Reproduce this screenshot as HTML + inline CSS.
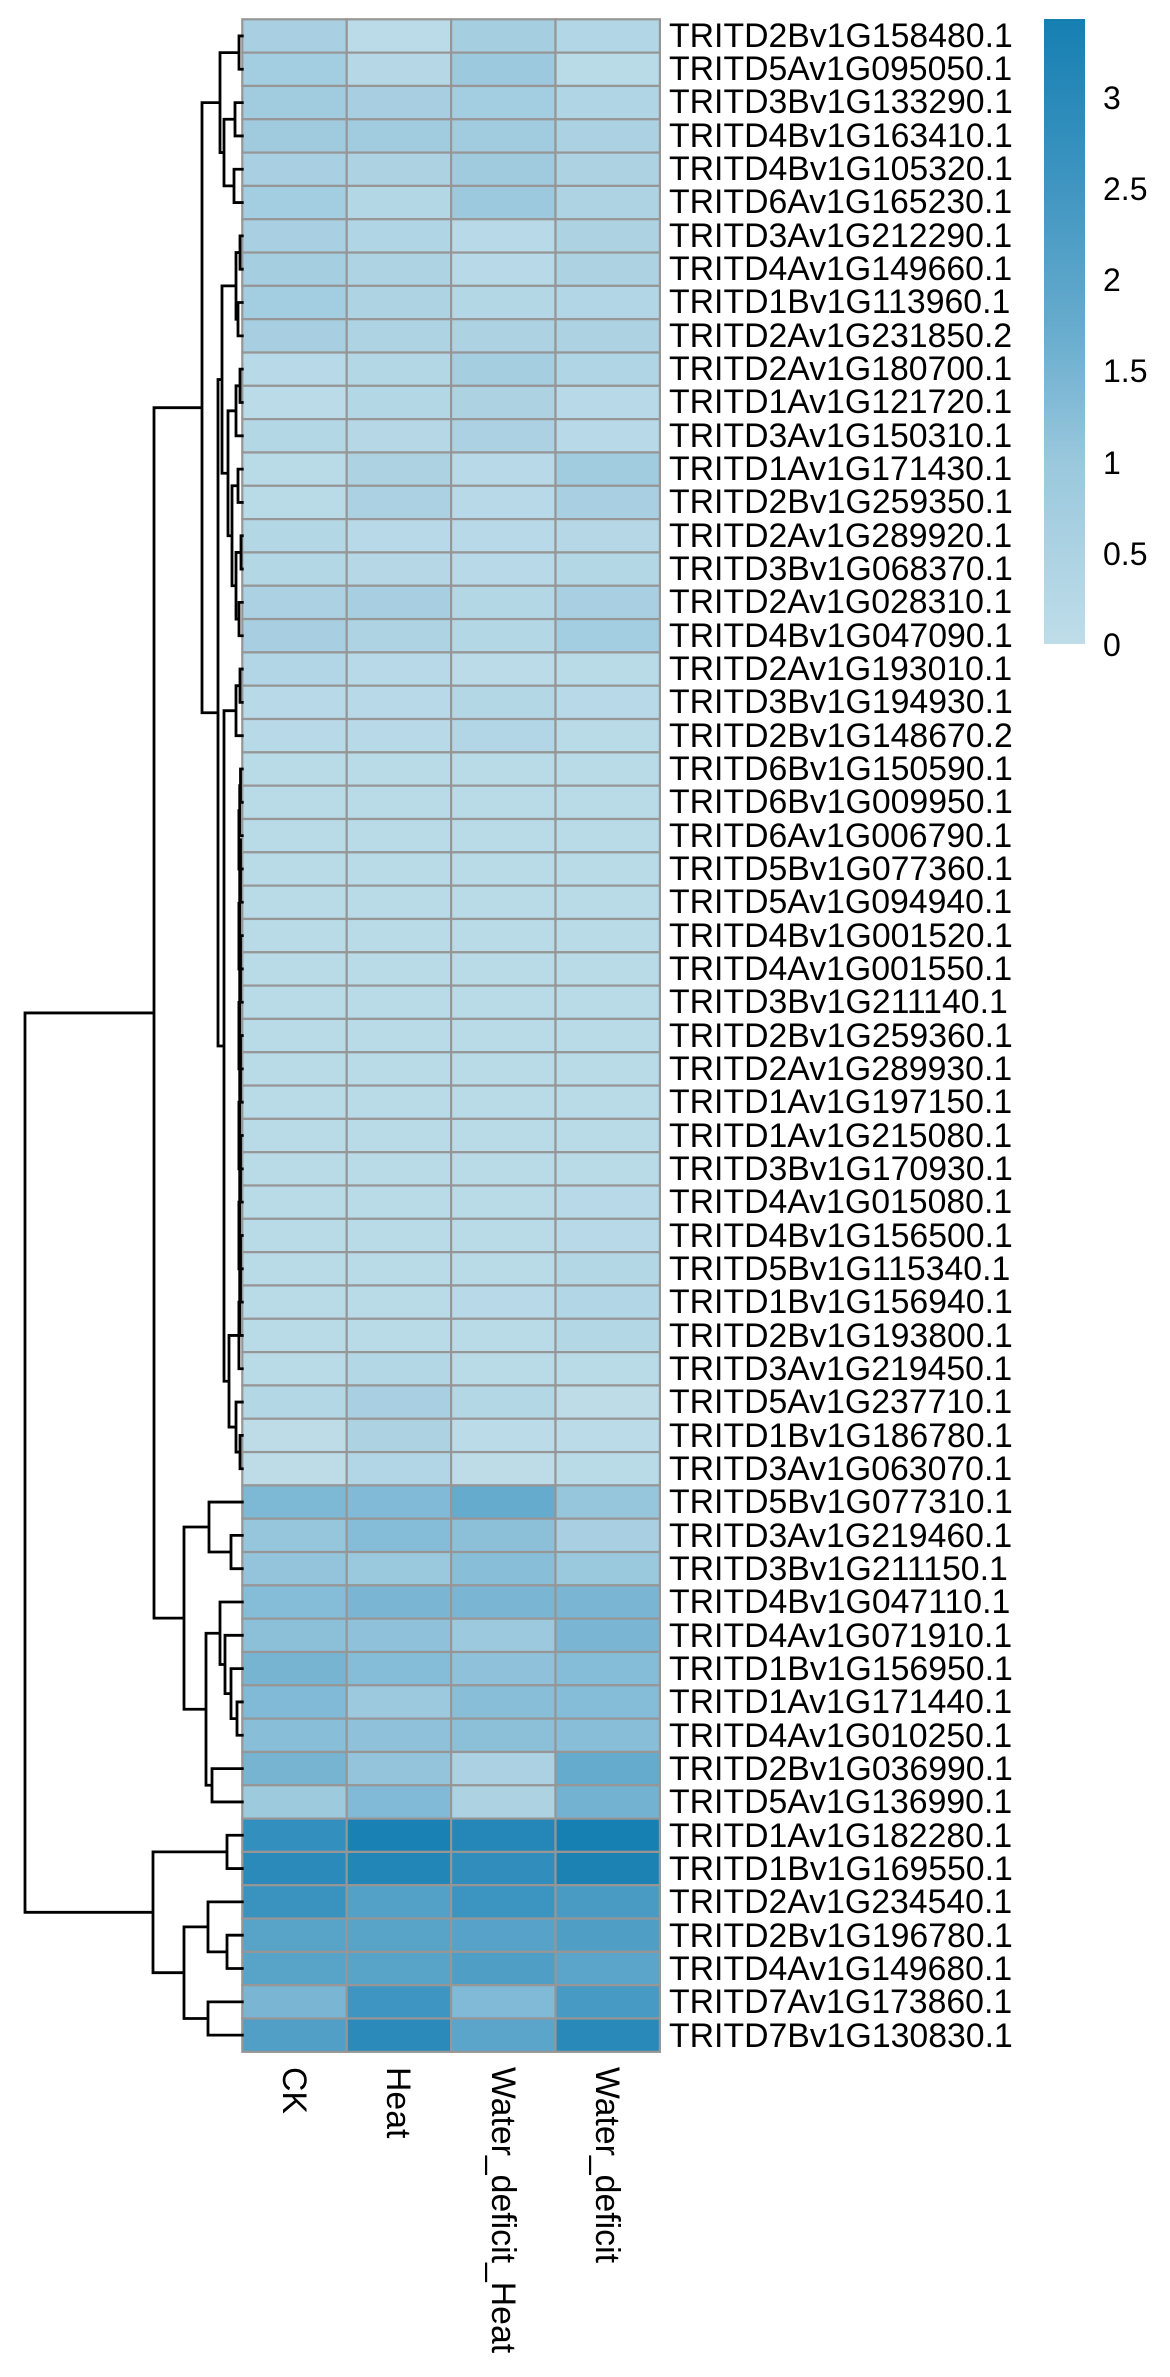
<!DOCTYPE html>
<html><head><meta charset="utf-8">
<style>
html,body{margin:0;padding:0;background:#fff;}
svg{display:block;}
text{font-family:"Liberation Sans",sans-serif;fill:#000;}
</style></head>
<body>
<svg id="s" width="1170" height="2377" viewBox="0 0 1170 2377" xmlns="http://www.w3.org/2000/svg">
<defs>
<linearGradient id="cb" x1="0" y1="1" x2="0" y2="0">
<stop offset="0" stop-color="rgb(191,221,233)"/>
<stop offset="0.29" stop-color="rgb(154,200,221)"/>
<stop offset="0.5" stop-color="rgb(104,172,206)"/>
<stop offset="0.75" stop-color="rgb(60,148,192)"/>
<stop offset="1" stop-color="rgb(22,127,178)"/>
</linearGradient>
</defs>
<g id="cells"></g>
<g id="dend" stroke="#000" stroke-width="2.8" fill="none" stroke-linecap="square"></g>
<rect x="1044" y="19" width="41" height="625" fill="url(#cb)"/>
<g font-size="32">
<text x="1103" y="109">3</text>
<text x="1103" y="200">2.5</text>
<text x="1103" y="291">2</text>
<text x="1103" y="382">1.5</text>
<text x="1103" y="474">1</text>
<text x="1103" y="565">0.5</text>
<text x="1103" y="656">0</text>
</g>
<g id="labels" font-size="33.8" dominant-baseline="central">
<text x="669" y="36">TRITD2Bv1G158480.1</text>
<text x="669" y="69">TRITD5Av1G095050.1</text>
<text x="669" y="102">TRITD3Bv1G133290.1</text>
<text x="669" y="136">TRITD4Bv1G163410.1</text>
<text x="669" y="169">TRITD4Bv1G105320.1</text>
<text x="669" y="202">TRITD6Av1G165230.1</text>
<text x="669" y="236">TRITD3Av1G212290.1</text>
<text x="669" y="269">TRITD4Av1G149660.1</text>
<text x="669" y="302">TRITD1Bv1G113960.1</text>
<text x="669" y="336">TRITD2Av1G231850.2</text>
<text x="669" y="369">TRITD2Av1G180700.1</text>
<text x="669" y="402">TRITD1Av1G121720.1</text>
<text x="669" y="436">TRITD3Av1G150310.1</text>
<text x="669" y="469">TRITD1Av1G171430.1</text>
<text x="669" y="502">TRITD2Bv1G259350.1</text>
<text x="669" y="536">TRITD2Av1G289920.1</text>
<text x="669" y="569">TRITD3Bv1G068370.1</text>
<text x="669" y="602">TRITD2Av1G028310.1</text>
<text x="669" y="636">TRITD4Bv1G047090.1</text>
<text x="669" y="669">TRITD2Av1G193010.1</text>
<text x="669" y="702">TRITD3Bv1G194930.1</text>
<text x="669" y="736">TRITD2Bv1G148670.2</text>
<text x="669" y="769">TRITD6Bv1G150590.1</text>
<text x="669" y="802">TRITD6Bv1G009950.1</text>
<text x="669" y="836">TRITD6Av1G006790.1</text>
<text x="669" y="869">TRITD5Bv1G077360.1</text>
<text x="669" y="902">TRITD5Av1G094940.1</text>
<text x="669" y="936">TRITD4Bv1G001520.1</text>
<text x="669" y="969">TRITD4Av1G001550.1</text>
<text x="669" y="1002">TRITD3Bv1G211140.1</text>
<text x="669" y="1036">TRITD2Bv1G259360.1</text>
<text x="669" y="1069">TRITD2Av1G289930.1</text>
<text x="669" y="1102">TRITD1Av1G197150.1</text>
<text x="669" y="1136">TRITD1Av1G215080.1</text>
<text x="669" y="1169">TRITD3Bv1G170930.1</text>
<text x="669" y="1202">TRITD4Av1G015080.1</text>
<text x="669" y="1236">TRITD4Bv1G156500.1</text>
<text x="669" y="1269">TRITD5Bv1G115340.1</text>
<text x="669" y="1302">TRITD1Bv1G156940.1</text>
<text x="669" y="1336">TRITD2Bv1G193800.1</text>
<text x="669" y="1369">TRITD3Av1G219450.1</text>
<text x="669" y="1402">TRITD5Av1G237710.1</text>
<text x="669" y="1436">TRITD1Bv1G186780.1</text>
<text x="669" y="1469">TRITD3Av1G063070.1</text>
<text x="669" y="1502">TRITD5Bv1G077310.1</text>
<text x="669" y="1536">TRITD3Av1G219460.1</text>
<text x="669" y="1569">TRITD3Bv1G211150.1</text>
<text x="669" y="1602">TRITD4Bv1G047110.1</text>
<text x="669" y="1636">TRITD4Av1G071910.1</text>
<text x="669" y="1669">TRITD1Bv1G156950.1</text>
<text x="669" y="1702">TRITD1Av1G171440.1</text>
<text x="669" y="1736">TRITD4Av1G010250.1</text>
<text x="669" y="1769">TRITD2Bv1G036990.1</text>
<text x="669" y="1802">TRITD5Av1G136990.1</text>
<text x="669" y="1836">TRITD1Av1G182280.1</text>
<text x="669" y="1869">TRITD1Bv1G169550.1</text>
<text x="669" y="1902">TRITD2Av1G234540.1</text>
<text x="669" y="1936">TRITD2Bv1G196780.1</text>
<text x="669" y="1969">TRITD4Av1G149680.1</text>
<text x="669" y="2002">TRITD7Av1G173860.1</text>
<text x="669" y="2036">TRITD7Bv1G130830.1</text>
</g>
<g font-size="33.8" dominant-baseline="central">
<text transform="translate(294,2067) rotate(90)">CK</text>
<text transform="translate(398,2067) rotate(90)">Heat</text>
<text transform="translate(503,2067) rotate(90)">Water_deficit_Heat</text>
<text transform="translate(607,2067) rotate(90)">Water_deficit</text>
</g>
</svg>
<script>
(function(){
var NS="http://www.w3.org/2000/svg";
var top=19.3,rh=33.32,left=242.3,cw=104.4;
var V=[
[.6,.1,.7,.35],[.75,.25,.95,.15],[.8,.65,.75,.4],[.85,.8,.8,.55],[.6,.5,.85,.5],[.75,.3,.95,.45],
[.6,.4,.2,.5],[.7,.45,.2,.5],[.75,.45,.3,.35],[.65,.45,.5,.5],[.2,.3,.7,.4],[.1,.3,.5,.2],
[.3,.25,.55,.2],[.15,.5,.2,.8],[.15,.55,.2,.6],[.3,.2,.2,.25],[.3,.25,.2,.3],[.55,.65,.3,.6],
[.65,.45,.3,.75],[.35,.2,.1,.15],[.2,.2,.3,.2],[.2,.2,.35,.15],
[.15,.15,.15,.15],[.15,.15,.15,.15],[.15,.15,.15,.15],[.15,.15,.15,.15],[.15,.15,.15,.15],[.15,.15,.15,.15],
[.15,.15,.15,.15],[.15,.15,.15,.15],[.15,.15,.15,.15],[.15,.15,.15,.15],[.15,.15,.15,.15],[.15,.15,.15,.15],
[.15,.15,.15,.15],[.15,.15,.15,.2],[.15,.15,.15,.2],[.15,.15,.15,.3],[.15,.15,.2,.35],[.15,.15,.15,.3],[.15,.3,.15,.15],
[.3,.6,.3,.05],[.05,.5,.1,.1],[.05,.35,.05,.15],
[1.4,1.35,1.75,1.05],[1.05,1.3,1.2,.6],[1.1,1.0,1.25,1.0],[1.3,1.45,1.45,1.45],[1.2,1.15,.95,1.45],
[1.5,1.3,1.15,1.3],[1.35,.95,1.25,1.3],[1.25,1.15,1.2,1.25],[1.5,1.1,.55,1.75],[.9,1.35,.5,1.55],
[2.75,3.35,3.1,3.4],[2.95,3.15,2.8,3.3],[2.6,2.1,2.55,2.3],[2.0,2.0,2.05,2.2],[2.0,2.0,2.2,1.95],
[1.45,2.5,1.35,2.35],[2.15,2.95,1.95,3.0]];
var stops=[[0,191,221,233],[1,154,200,221],[1.7,104,172,206],[2.55,60,148,192],[3.43,22,127,178]];
function col(v){for(var i=0;i<stops.length-1;i++){var a=stops[i],b=stops[i+1];if(v<=b[0]||i==stops.length-2){var t=Math.max(0,Math.min(1,(v-a[0])/(b[0]-a[0])));return "rgb("+[1,2,3].map(function(k){return Math.round(a[k]+(b[k]-a[k])*t)}).join(",")+")";}}}
var g=document.getElementById("cells");
for(var r=0;r<61;r++)for(var c=0;c<4;c++){var e=document.createElementNS(NS,"rect");
e.setAttribute("x",left+c*cw);e.setAttribute("y",top+r*rh);e.setAttribute("width",cw);e.setAttribute("height",rh);
e.setAttribute("fill",col(V[r][c]));e.setAttribute("stroke","#969696");e.setAttribute("stroke-width","2.2");g.appendChild(e);}
function chain(a,b){var n=a;for(var i=a+1;i<=b;i++){n=[240.5-(i%3)*0.8,n,i];}return n;}
var A1a=[220,[239,1,2],[224,[235,3,4],[234,5,6]]];
var C=[222,[236,[240,7,8],[238,9,10]],[228,[236,[240,11,12],13],[232,[238,14,15],[236,[241,16,17],[239,18,19]]]]];
var D=[224,[236,[240,20,21],22],[229,chain(23,41),[236,42,[240,43,44]]]];
var A1=[202,A1a,[218,C,D]];
var A2=[184,[209,45,[231,46,47]],[206,[220,48,[225,49,[231,50,[237,51,52]]]],[212,53,54]]];
var B=[153,[227,55,56],[184,[208,57,[227,58,59]],[208,60,61]]];
var root=[25,[154,A1,A2],B];
var d=document.getElementById("dend"),path="";
function draw(n){if(typeof n=="number")return {x:left,y:top+rh*(n-0.5)};
var l=draw(n[1]),r=draw(n[2]),x=n[0];
path+="M"+l.x+" "+l.y+"H"+x+"V"+r.y+"H"+r.x;return {x:x,y:(l.y+r.y)/2};}
draw(root);
var p=document.createElementNS(NS,"path");p.setAttribute("d",path);d.appendChild(p);
})();
</script>
</body></html>
